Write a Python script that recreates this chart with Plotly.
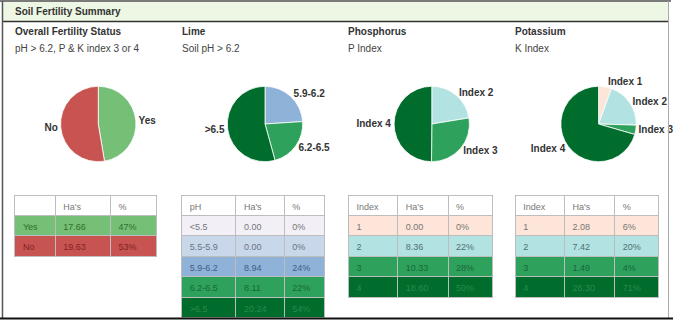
import plotly.graph_objects as go

W, H = 678, 324

# ---------------- data ----------------
panel_titles = ["Overall Fertility Status", "Lime", "Phosphorus", "Potassium"]
panel_subtitles = ["pH &gt; 6.2, P &amp; K index 3 or 4", "Soil pH &gt; 6.2", "P Index", "K Index"]

status_labels = ["Yes", "No"]
status_ha = [17.66, 19.63]
status_pct = ["47%", "53%"]

lime_labels = ["<5.5", "5.5-5.9", "5.9-6.2", "6.2-6.5", ">6.5"]
lime_ha = [0.00, 0.00, 8.94, 8.11, 20.24]
lime_pct = ["0%", "0%", "24%", "22%", "54%"]

p_labels = ["Index 1", "Index 2", "Index 3", "Index 4"]
p_rows = ["1", "2", "3", "4"]
p_ha = [0.00, 8.36, 10.33, 18.60]
p_pct = ["0%", "22%", "28%", "50%"]

k_labels = ["Index 1", "Index 2", "Index 3", "Index 4"]
k_rows = ["1", "2", "3", "4"]
k_ha = [2.08, 7.42, 1.49, 26.30]
k_pct = ["6%", "20%", "4%", "71%"]

# ---------------- styles ----------------
status_fill = ["#76bf76", "#c85452"]
status_text = ["#2f6f2f", "#7f2222"]
lime_fill = ["#f2eff7", "#c8d7ea", "#8fb2d9", "#2ea25c", "#006d2c"]
lime_text = ["#777777", "#6a7485", "#3d5e85", "#17683a", "#2a8a4c"]
idx_fill = ["#fde5d9", "#b3e2e2", "#2ea25c", "#006d2c"]
idx_text = ["#777777", "#4f7070", "#17683a", "#2a8a4c"]

FONT = "Liberation Sans, Arial, sans-serif"


def px(x):
    return x / W


def py(y):
    return 1 - y / H


def esc(s):
    return s.replace("&", "&amp;").replace("<", "&lt;").replace(">", "&gt;")


fig = go.Figure()

# ---------------- pies ----------------
R = 38
pies = [
    (status_labels, status_ha, status_fill, 99),
    (lime_labels, lime_ha, lime_fill, 267),
    (p_labels, p_ha, idx_fill, 435),
    (k_labels, k_ha, idx_fill, 603),
]
CY = 124
for labels, vals, cols, cx in pies:
    keep = [i for i, v in enumerate(vals) if v > 0]
    fig.add_trace(go.Pie(
        labels=[esc(labels[i]) for i in keep],
        values=[vals[i] for i in keep],
        marker=dict(colors=[cols[i] for i in keep], line=dict(color="white", width=0.8)),
        sort=False, direction="clockwise", rotation=0,
        textinfo="label", textposition="outside",
        outsidetextfont=dict(family=FONT, size=10, color="#333333", weight="bold"),
        domain=dict(x=[px(cx - R), px(cx + R)], y=[py(CY + R), py(CY - R)]),
        showlegend=False, hoverinfo="label+value+percent",
    ))

# ---------------- tables ----------------
tables = [
    (["", "Ha's", "%"], status_labels, status_ha, status_pct, status_fill, status_text, 15, 159, [41, 56, 47]),
    (["pH", "Ha's", "%"], lime_labels, lime_ha, lime_pct, lime_fill, lime_text, 183, 328, [55, 49, 41]),
    (["Index", "Ha's", "%"], p_rows, p_ha, p_pct, idx_fill, idx_text, 351, 497, [50, 51, 45]),
    (["Index", "Ha's", "%"], k_rows, k_ha, k_pct, idx_fill, idx_text, 519, 664, [50, 51, 44]),
]
T_TOP = 195
ROW_H = 20.5
for hdr, rows, ha, pct, fills, tcols, x0, x1, cw in tables:
    n = len(rows)
    # leading "<" / ">" go into the (plain-text) prefix so the row keeps its height
    pre = [r[0] if r[:1] in ("<", ">") else "" for r in rows]
    body = [r[1:] if r[:1] in ("<", ">") else r for r in rows]
    fig.add_trace(go.Table(
        domain=dict(x=[px(x0), px(x1)], y=[py(min(T_TOP + 20 + ROW_H * n + 10, 322)), py(T_TOP)]),
        columnwidth=cw,
        header=dict(values=hdr, fill_color="white", height=20, align="left",
                    line=dict(color="#bdbdbd", width=1),
                    font=dict(family=FONT, size=9, color="#777777")),
        cells=dict(values=[body, [f"{v:.2f}" for v in ha], pct],
                   fill_color=[fills] * 3, height=ROW_H, align="left",
                   line=dict(color="#bdbdbd", width=1),
                   font=dict(family=FONT, size=9, color=[tcols] * 3)),
    ))
    if any(pre):
        fig._data[-1]["cells"]["prefix"] = [pre, "", ""]

# ---------------- frame shapes ----------------
shapes = [
    dict(type="rect", x0=px(2), x1=px(674), y0=py(21), y1=py(1), fillcolor="#eef7e3", line=dict(width=0), layer="below"),
    dict(type="line", x0=0, x1=px(676), y0=py(1), y1=py(1), line=dict(color="#7a7a7a", width=2)),
    dict(type="line", x0=px(2), x1=px(674), y0=py(21.5), y1=py(21.5), line=dict(color="#333333", width=1.5)),
    dict(type="line", x0=px(2.5), x1=px(2.5), y0=py(1), y1=py(318), line=dict(color="#555555", width=1.5)),
    dict(type="line", x0=px(673.5), x1=px(673.5), y0=py(1), y1=py(318), line=dict(color="#aaaaaa", width=1)),
    dict(type="line", x0=0, x1=1, y0=py(318.5), y1=py(318.5), line=dict(color="#111111", width=2)),
]

# ---------------- text ----------------
ann = [dict(text="<b>Soil Fertility Summary</b>", x=px(13), y=py(11.5), xanchor="left", yanchor="middle",
            showarrow=False, font=dict(family=FONT, size=10, color="#333333"))]
col_x = [13, 181, 349, 517]
for t, s, x in zip(panel_titles, panel_subtitles, col_x):
    ann.append(dict(text=f"<b>{t}</b>", x=px(x), y=py(31.5), xanchor="left", yanchor="middle",
                    showarrow=False, font=dict(family=FONT, size=10, color="#333333")))
    ann.append(dict(text=s, x=px(x), y=py(48.5), xanchor="left", yanchor="middle",
                    showarrow=False, font=dict(family=FONT, size=10, color="#444444")))

fig.update_layout(
    width=W, height=H, margin=dict(l=0, r=0, t=0, b=0),
    paper_bgcolor="white", plot_bgcolor="white",
    shapes=shapes, annotations=ann,
)

fig.write_html("out.html")
